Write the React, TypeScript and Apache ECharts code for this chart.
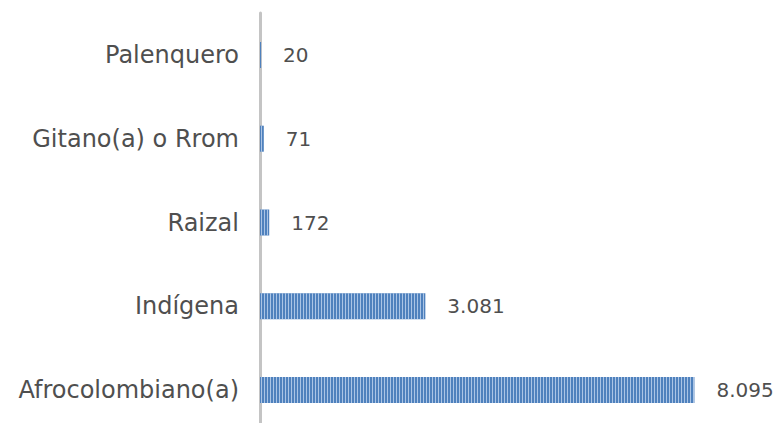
import React, { useEffect, useRef } from "react";
import * as echarts from "echarts";

const categories = ["Afrocolombiano(a)", "Indígena", "Raizal", "Gitano(a) o Rrom", "Palenquero"];
const values = [8095, 3081, 172, 71, 20];

function fmt(v: number): string {
  return String(v).replace(/\B(?=(\d{3})+(?!\d))/g, ".");
}

export default function App() {
  const ref = useRef<HTMLDivElement>(null);
  useEffect(() => {
    const chart = echarts.init(ref.current!, null, { renderer: "svg" });
    chart.setOption({
      animation: false,
      grid: { left: 260, right: 36, top: 13, height: 419, containLabel: false, outerBoundsMode: "none" },
      xAxis: {
        type: "value",
        min: 0,
        max: 9000,
        show: false,
      },
      yAxis: {
        type: "category",
        data: categories,
        axisLine: { show: true, lineStyle: { color: "#C4C4C4", width: 3 } },
        axisTick: { show: false },
        axisLabel: {
          color: "#4F4F4F",
          fontSize: 24,
          fontFamily: "'Century Gothic', 'DejaVu Sans', sans-serif",
          margin: 21,
        },
      },
      series: [
        {
          type: "bar",
          data: values,
          barWidth: 26,
          itemStyle: {
            color: "#4F81BD",
            decal: {
              symbol: "rect",
              symbolSize: 1,
              color: "rgba(200,218,242,0.75)",
              dashArrayX: [1, 2],
              dashArrayY: [4, 0],
              rotation: 0,
            },
          },
          label: {
            show: true,
            position: "right",
            distance: 22,
            color: "#4F4F4F",
            fontSize: 20,
            fontFamily: "'Century Gothic', 'DejaVu Sans', sans-serif",
            formatter: (p: any) => fmt(p.value),
          },
        },
      ],
    });
    return () => chart.dispose();
  }, []);
  return <div ref={ref} style={{ width: 779, height: 423, position: "absolute", left: 0, top: 0 }} />;
}
